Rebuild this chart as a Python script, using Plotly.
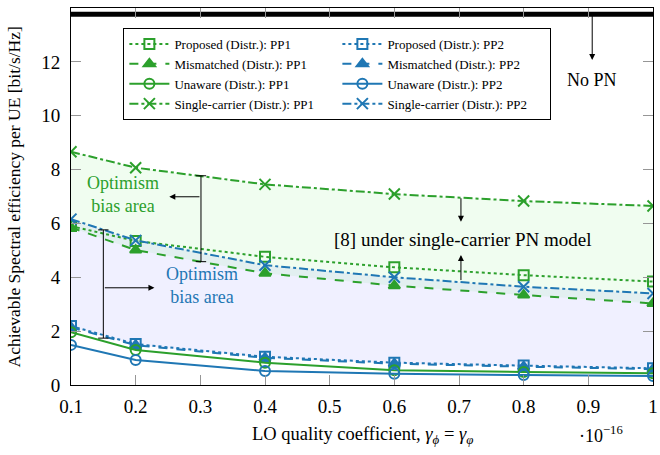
import plotly.graph_objects as go

# ---------------- data ----------------
gamma = [0.1, 0.2, 0.4, 0.6, 0.8, 1.0]
prop_pp1 = [5.90, 5.35, 4.76, 4.37, 4.08, 3.84]
mis_pp1 = [5.85, 5.01, 4.15, 3.69, 3.34, 3.03]
una_pp1 = [1.96, 1.30, 0.83, 0.55, 0.48, 0.44]
sc_pp1 = [8.66, 8.07, 7.45, 7.09, 6.83, 6.65]
prop_pp2 = [2.19, 1.52, 1.05, 0.83, 0.72, 0.62]
mis_pp2 = [2.14, 1.48, 1.01, 0.79, 0.68, 0.59]
una_pp2 = [1.49, 0.93, 0.52, 0.42, 0.37, 0.33]
sc_pp2 = [6.16, 5.37, 4.45, 4.00, 3.65, 3.40]
no_pn = 13.77
x_ticks = [0.1, 0.2, 0.3, 0.4, 0.5, 0.6, 0.7, 0.8, 0.9, 1.0]
x_tick_labels = ["0.1", "0.2", "0.3", "0.4", "0.5", "0.6", "0.7", "0.8", "0.9", "1"]
y_ticks = [0, 2, 4, 6, 8, 10, 12, 14]

GREEN = "rgb(44,160,44)"
BLUE = "rgb(31,119,180)"
FONT = "Liberation Serif"

fig = go.Figure()

# shaded optimism-bias areas
fig.add_trace(go.Scatter(x=gamma, y=mis_pp2, mode="lines", line=dict(width=0),
                         showlegend=False, hoverinfo="skip"))
fig.add_trace(go.Scatter(x=gamma, y=sc_pp2, mode="lines", line=dict(width=0),
                         fill="tonexty", fillcolor="rgba(40,40,255,0.07)",
                         showlegend=False, hoverinfo="skip"))
fig.add_trace(go.Scatter(x=gamma, y=mis_pp1, mode="lines", line=dict(width=0),
                         showlegend=False, hoverinfo="skip"))
fig.add_trace(go.Scatter(x=gamma, y=sc_pp1, mode="lines", line=dict(width=0),
                         fill="tonexty", fillcolor="rgba(40,220,40,0.07)",
                         showlegend=False, hoverinfo="skip"))

# No PN reference line
fig.add_trace(go.Scatter(x=[gamma[0], gamma[-1]], y=[no_pn, no_pn], mode="lines",
                         line=dict(color="black", width=5), showlegend=False,
                         hoverinfo="skip"))

def series(y, name, color, dash, symbol):
    filled = symbol == "triangle-up"
    fig.add_trace(go.Scatter(
        x=gamma, y=y, name=name, mode="lines+markers",
        line=dict(color=color, width=2, dash=dash),
        marker=dict(symbol=symbol, size=10 if symbol != "x-thin" else 11,
                    color=color if filled else "rgba(0,0,0,0)",
                    line=dict(color=color, width=2)),
    ))

series(prop_pp1, "Proposed (Distr.): PP1", GREEN, "dot", "square")
series(prop_pp2, "Proposed (Distr.): PP2", BLUE, "dot", "square")
series(mis_pp1, "Mismatched (Distr.): PP1", GREEN, "dash", "triangle-up")
series(mis_pp2, "Mismatched (Distr.): PP2", BLUE, "dash", "triangle-up")
series(una_pp1, "Unaware (Distr.): PP1", GREEN, "solid", "circle")
series(una_pp2, "Unaware (Distr.): PP2", BLUE, "solid", "circle")
series(sc_pp1, "Single-carrier (Distr.): PP1", GREEN, "dashdot", "x-thin")
series(sc_pp2, "Single-carrier (Distr.): PP2", BLUE, "dashdot", "x-thin")

# I-beam brackets
def ibeam(x, y0, y1, cap=0.008):
    fig.add_shape(type="line", x0=x, x1=x, y0=y0, y1=y1, xref="x", yref="y",
                  line=dict(color="black", width=1))
    for yy in (y0, y1):
        fig.add_shape(type="line", x0=x - cap, x1=x + cap, y0=yy, y1=yy,
                      xref="x", yref="y", line=dict(color="black", width=1))

ibeam(0.301, 4.58, 7.77)
ibeam(0.150, 1.74, 5.76)

def arrow(x0, y0, x1, y1):
    fig.add_annotation(x=x1, y=y1, ax=x0, ay=y0, xref="x", yref="y",
                       axref="x", ayref="y", text="", showarrow=True,
                       arrowhead=2, arrowsize=1.2, arrowwidth=1,
                       arrowcolor="black")

arrow(0.301, 6.99, 0.252, 6.99)
arrow(0.150, 3.61, 0.229, 3.61)
arrow(0.703, 6.99, 0.703, 6.06)
arrow(0.703, 3.84, 0.703, 4.83)
arrow(0.906, no_pn, 0.906, 12.07)

def label(x, y, text, color="black", size=18):
    fig.add_annotation(x=x, y=y, xref="x", yref="y", text=text, showarrow=False,
                       xanchor="center", yanchor="middle",
                       font=dict(family=FONT, size=size, color=color))

label(0.180, 7.07, "Optimism<br>bias area", GREEN)
label(0.302, 3.71, "Optimism<br>bias area", BLUE)
label(0.705, 5.42, "[8] under single-carrier PN model", size=19)
label(0.906, 11.33, "No PN")

# axis titles
fig.add_annotation(x=-0.098, y=0.5, xref="paper", yref="paper", textangle=-90,
                   xanchor="center", yanchor="middle",
                   text="Achievable Spectral efficiency per UE [bit/s/Hz]",
                   showarrow=False, font=dict(family=FONT, size=17.5, color="black"))
fig.add_annotation(x=0.5, y=-0.133, xref="paper", yref="paper",
                   xanchor="center", yanchor="middle",
                   text="LO quality coefficient, <i>γ</i><sub><i>ϕ</i></sub>&#8197;=&#8197;<i>γ</i><sub><i>φ</i></sub>",
                   showarrow=False, font=dict(family=FONT, size=18.5, color="black"))
fig.add_annotation(x=0.91, y=-0.13, xref="paper", yref="paper",
                   xanchor="center", yanchor="middle",
                   text="·10<sup>−16</sup>", showarrow=False,
                   font=dict(family=FONT, size=18, color="black"))

axis_common = dict(showgrid=False, zeroline=False, showline=True, linecolor="black",
                   linewidth=1, mirror="ticks", ticks="inside", ticklen=10,
                   tickcolor="rgb(150,150,150)",
                   tickfont=dict(family=FONT, size=19, color="black"))

fig.update_xaxes(range=[0.1, 1.0], tickvals=x_ticks, ticktext=x_tick_labels,
                 ticklabelstandoff=4, ticklabeloverflow="allow", **axis_common)
fig.update_yaxes(range=[0, 14], tickvals=y_ticks, ticklabelstandoff=6, **axis_common)

fig.update_layout(
    width=660, height=455,
    margin=dict(l=71, r=2, t=8, b=70),
    plot_bgcolor="white", paper_bgcolor="white",
    font=dict(family=FONT, color="black"),
    legend=dict(orientation="h", x=0.09, y=0.947, xanchor="left", yanchor="top",
                traceorder="normal",
                bgcolor="white", bordercolor="black", borderwidth=1,
                entrywidth=158, itemwidth=40,
                font=dict(family=FONT, size=13, color="black")),
)

fig.write_html("out.html")
